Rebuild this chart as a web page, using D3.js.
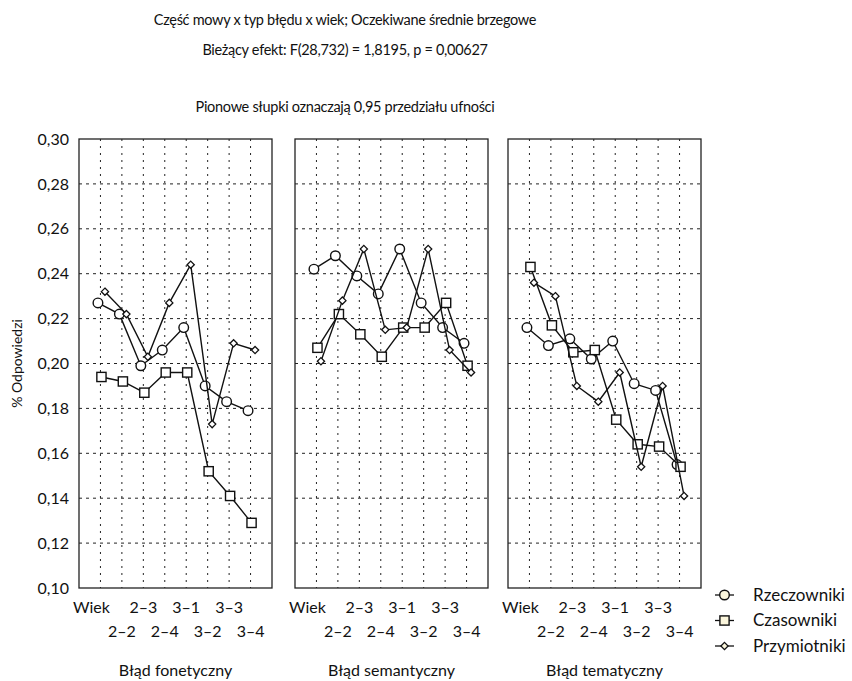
<!DOCTYPE html>
<html>
<head>
<meta charset="utf-8">
<script src="https://cdn.jsdelivr.net/npm/d3@7"></script>
<style>
  body { margin: 0; background: #fff; }
  text { font-family: Lato, "Noto Sans", sans-serif; fill: #111; }
</style>
</head>
<body>
<svg id="chart" width="852" height="681"></svg>
<script>
// age groups (first one is labelled with the factor name "Wiek")
var categories = ["2–1", "2–2", "2–3", "2–4", "3–1", "3–2", "3–3", "3–4"];
var tickLabels = ["Wiek", "2–2", "2–3", "2–4", "3–1", "3–2", "3–3", "3–4"];
var panels = ["Błąd fonetyczny", "Błąd semantyczny", "Błąd tematyczny"];
var yTicks = [0.10, 0.12, 0.14, 0.16, 0.18, 0.20, 0.22, 0.24, 0.26, 0.28, 0.30];
var seriesNames = ["Rzeczowniki", "Czasowniki", "Przymiotniki"];

// one row per panel (fonetyczny, semantyczny, tematyczny)
var rzeczowniki = [
  [0.227, 0.222, 0.199, 0.206, 0.216, 0.190, 0.183, 0.179],
  [0.242, 0.248, 0.239, 0.231, 0.251, 0.227, 0.216, 0.209],
  [0.216, 0.208, 0.211, 0.202, 0.210, 0.191, 0.188, 0.155]
];
var czasowniki = [
  [0.194, 0.192, 0.187, 0.196, 0.196, 0.152, 0.141, 0.129],
  [0.207, 0.222, 0.213, 0.203, 0.216, 0.216, 0.227, 0.199],
  [0.243, 0.217, 0.205, 0.206, 0.175, 0.164, 0.163, 0.154]
];
var przymiotniki = [
  [0.232, 0.222, 0.203, 0.227, 0.244, 0.173, 0.209, 0.206],
  [0.201, 0.228, 0.251, 0.215, 0.216, 0.251, 0.206, 0.196],
  [0.236, 0.230, 0.190, 0.183, 0.196, 0.154, 0.190, 0.141]
];

var svg = d3.select("#chart");

var panelLeft = [79, 295, 508];
var panelWidth = 193;
var plotTop = 139, plotBottom = 588;

var y = d3.scaleLinear().domain([0.10, 0.30]).range([plotBottom, plotTop]);
var x = d3.scalePoint().domain(categories).range([0, panelWidth]).padding(1);
var fmt = function(v) { return d3.format(".2f")(v).replace(".", ","); };

// titles
var titles = [
  ["Część mowy x typ błędu x wiek; Oczekiwane średnie brzegowe", 25],
  ["Bieżący efekt: F(28,732) = 1,8195, p = 0,00627", 55],
  ["Pionowe słupki oznaczają 0,95 przedziału ufności", 112]
];
titles.forEach(function(t) {
  svg.append("text").attr("x", 345).attr("y", t[1]).attr("text-anchor", "middle")
    .style("font-size", "14.5px").style("letter-spacing", "-0.3px").text(t[0]);
});

// y axis labels
svg.append("g").selectAll("text").data(yTicks).join("text")
  .attr("x", 69).attr("y", function(d) { return y(d); }).attr("dy", "0.35em")
  .attr("text-anchor", "end").style("font-size", "16px")
  .text(fmt);

svg.append("text")
  .attr("transform", "translate(22," + ((plotTop + plotBottom) / 2) + ") rotate(-90)")
  .attr("text-anchor", "middle").style("font-size", "14px").text("% Odpowiedzi");

var series = [
  { data: rzeczowniki, shape: "circle", dx: -2.5 },
  { data: czasowniki, shape: "square", dx: 1 },
  { data: przymiotniki, shape: "diamond", dx: 4.5 }
];

function drawMarker(g, shape, fill) {
  if (shape == "circle") {
    g.append("circle").attr("r", 4.8).attr("fill", fill).attr("stroke", "#111").attr("stroke-width", 1.4);
  } else if (shape == "square") {
    g.append("rect").attr("x", -4.6).attr("y", -4.6).attr("width", 9.2).attr("height", 9.2)
      .attr("fill", fill).attr("stroke", "#111").attr("stroke-width", 1.4);
  } else {
    g.append("path").attr("d", "M0,-3.6L3.6,0L0,3.6L-3.6,0Z")
      .attr("fill", fill).attr("stroke", "#111").attr("stroke-width", 1.3);
  }
}

panels.forEach(function(name, p) {
  var g = svg.append("g").attr("transform", "translate(" + panelLeft[p] + ",0)");

  // grid
  g.append("g").selectAll("line").data(yTicks.slice(1, -1)).join("line")
    .attr("x1", 0).attr("x2", panelWidth)
    .attr("y1", function(d) { return y(d); }).attr("y2", function(d) { return y(d); })
    .attr("stroke", "#222").attr("stroke-width", 1).attr("stroke-dasharray", "3,4");
  g.append("g").selectAll("line").data(categories).join("line")
    .attr("x1", function(d) { return x(d); }).attr("x2", function(d) { return x(d); })
    .attr("y1", plotTop).attr("y2", plotBottom)
    .attr("stroke", "#222").attr("stroke-width", 1).attr("stroke-dasharray", "2,5");

  g.append("rect").attr("x", 0).attr("y", plotTop).attr("width", panelWidth).attr("height", plotBottom - plotTop)
    .attr("fill", "none").attr("stroke", "#222").attr("stroke-width", 1.3);

  // series
  series.forEach(function(s) {
    var vals = s.data[p];
    var line = d3.line()
      .x(function(d, i) { return x(categories[i]) + s.dx; })
      .y(function(d) { return y(d); });
    g.append("path").datum(vals).attr("d", line)
      .attr("fill", "none").attr("stroke", "#111").attr("stroke-width", 1.4);
    g.append("g").selectAll("g").data(vals).join("g")
      .attr("transform", function(d, i) { return "translate(" + (x(categories[i]) + s.dx) + "," + y(d) + ")"; })
      .each(function() { drawMarker(d3.select(this), s.shape, "#fff"); });
  });

  // x labels, two staggered rows
  g.append("g").selectAll("text").data(tickLabels).join("text")
    .attr("x", function(d, i) { return x(categories[i]) + (i == 0 ? -9 : 0); })
    .attr("y", function(d, i) { return i % 2 == 0 ? 613 : 637; })
    .attr("text-anchor", "middle").style("font-size", "16px")
    .text(function(d) { return d; });

  g.append("text").attr("x", panelWidth / 2).attr("y", 676).attr("text-anchor", "middle")
    .style("font-size", "16px").text(name);
});

// legend
var legend = svg.append("g");
seriesNames.forEach(function(n, i) {
  var ly = 595 + i * 25.5;
  legend.append("line").attr("x1", 715).attr("x2", 734).attr("y1", ly).attr("y2", ly)
    .attr("stroke", "#111").attr("stroke-width", 1.3);
  var m = legend.append("g").attr("transform", "translate(724.5," + ly + ")");
  drawMarker(m, series[i].shape, "#fbf6dc");
  legend.append("text").attr("x", 753).attr("y", ly).attr("dy", "0.35em")
    .style("font-size", "17px").text(n);
});
</script>
</body>
</html>
